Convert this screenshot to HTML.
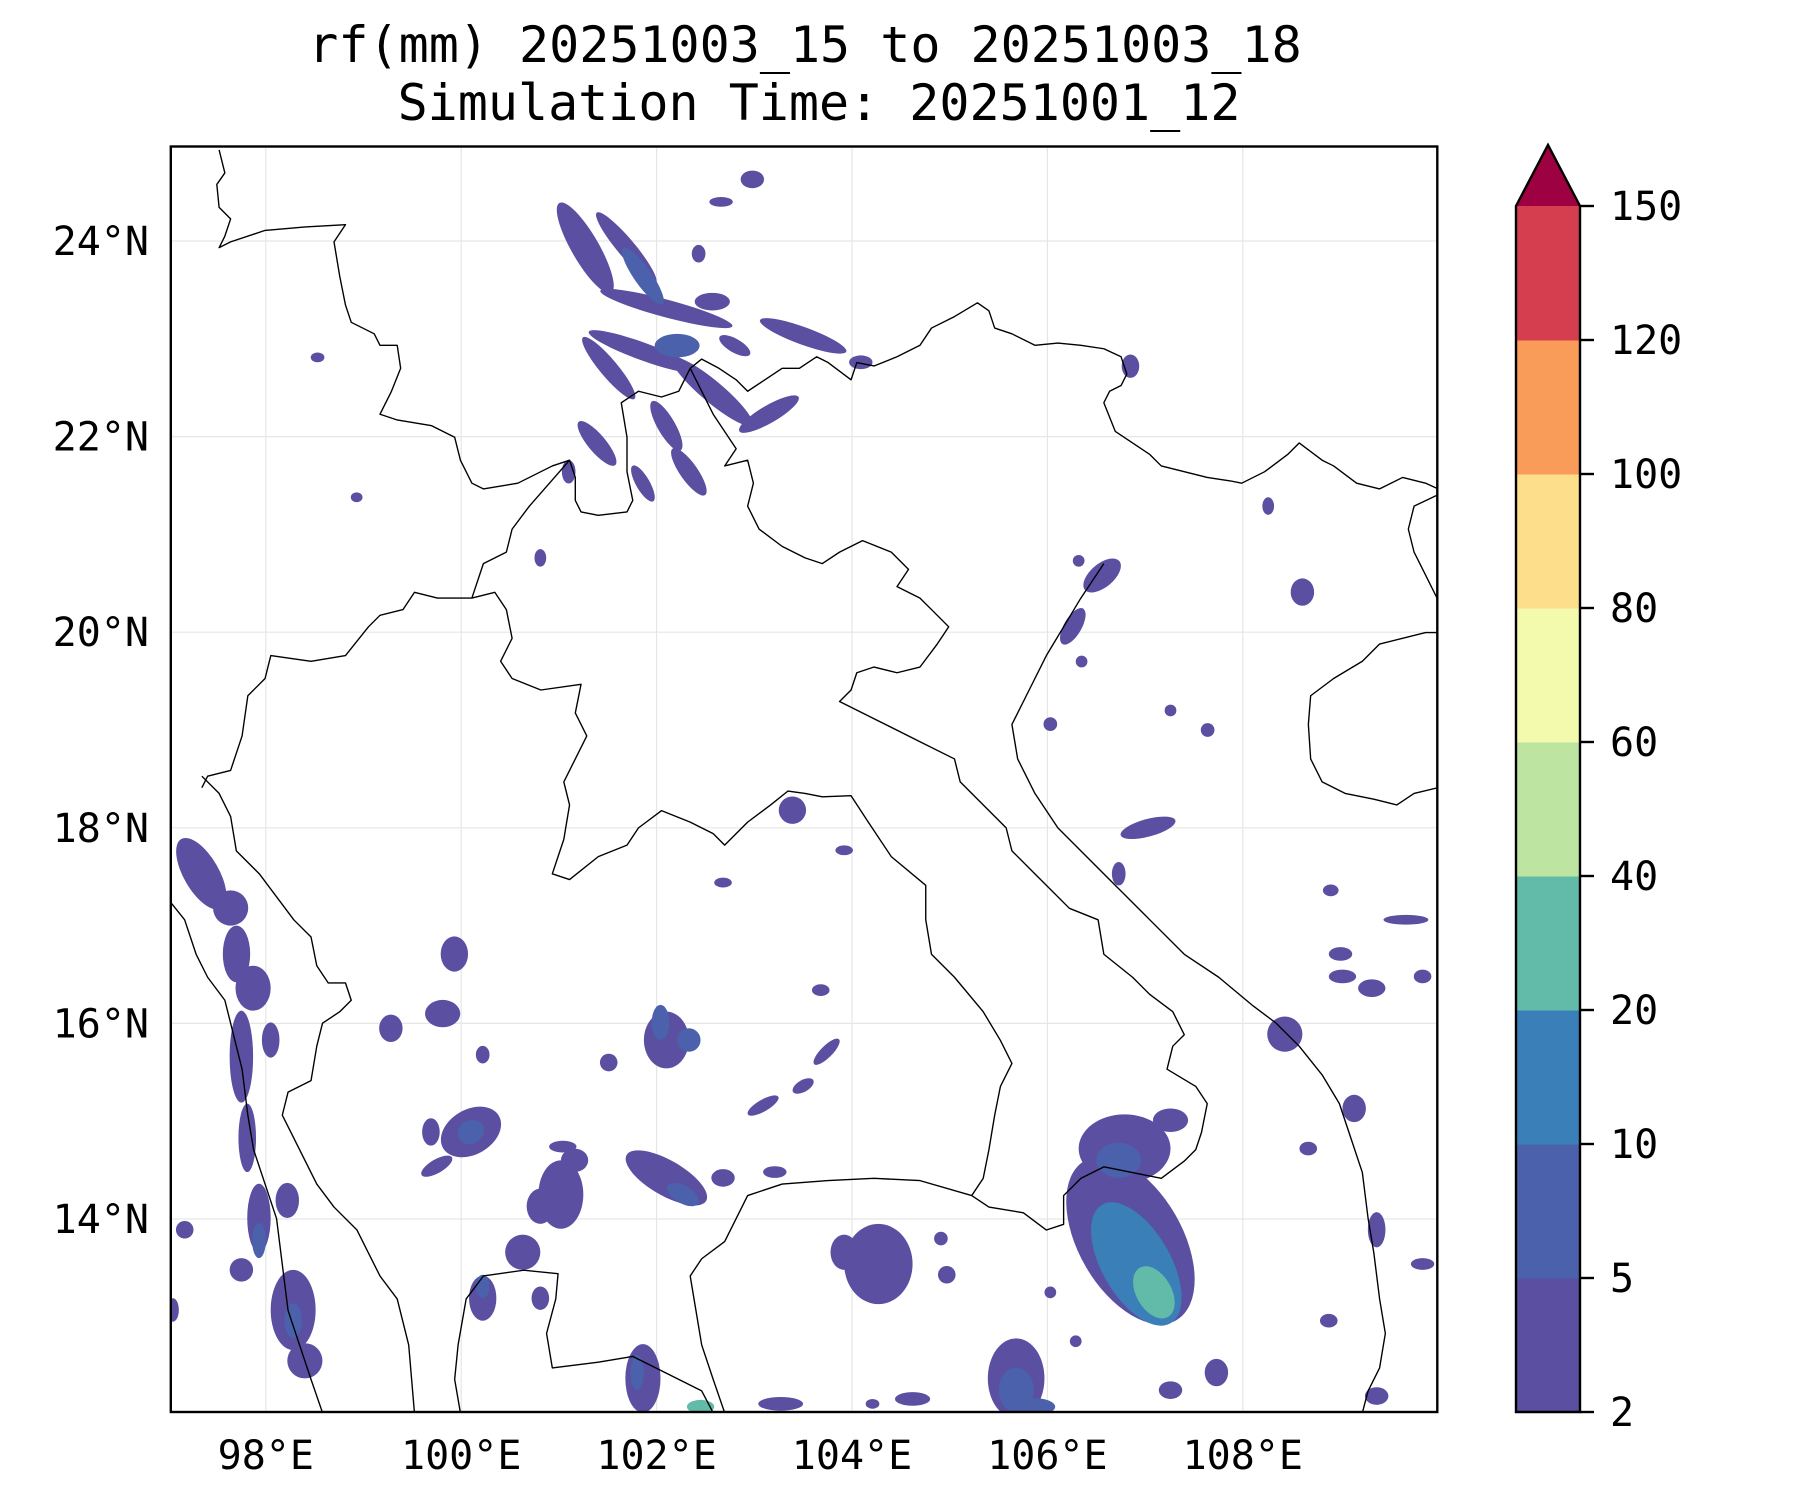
<!DOCTYPE html>
<html><head><meta charset="utf-8"><title>rf(mm) map</title>
<style>
html,body{margin:0;padding:0;background:#fff;}
svg{display:block;}
text{font-family:"DejaVu Sans Mono","Liberation Mono",monospace;fill:#000;}
</style></head>
<body>
<svg id="fig" width="1800" height="1500" viewBox="0 0 1800 1500" xmlns="http://www.w3.org/2000/svg">
<defs><clipPath id="axclip"><rect x="170.8" y="146.5" width="1266.5" height="1265.5"/></clipPath></defs>
<text x="805" y="62" font-size="50" text-anchor="middle">rf(mm) 20251003_15 to 20251003_18</text>
<text x="819" y="120" font-size="50" text-anchor="middle">Simulation Time: 20251001_12</text>
<g id="grid"></g>
<g id="rain" clip-path="url(#axclip)"></g>
<g clip-path="url(#axclip)">
<g transform="translate(0.8,0.6) scale(1.149)" fill="none" stroke="#000" stroke-width="1.2" stroke-linejoin="round">
<polyline points="190,130 195,150 188,160 190,180 200,190 195,205 190,215 200,210 230,200 265,197 300,195 290,210 295,240 300,265 305,280 325,290 330,300 345,300 348,320 340,340 330,360 345,365 375,370 395,380 400,400 410,420 420,425 450,420 480,405 495,400 500,415 500,435 505,445 520,448 545,445 550,435 545,410 545,380 540,350 555,340 575,345 590,340 600,320 610,312 625,320 640,330 650,340 665,330 680,320 695,320 710,310 720,315 740,330 745,315 760,318 780,310 800,300 810,285 830,275 850,263 860,270 865,285 880,290 900,300 920,298 940,300 960,303 975,310 980,325 975,335 965,340 960,350 970,375 985,385 1000,395 1010,405 1030,410 1050,415 1070,418 1080,420 1100,410 1120,395 1130,385 1150,400 1160,405 1180,420 1200,425 1220,415 1240,420 1251,425"/>
<polyline points="600,320 620,360 640,390 630,405 650,400 655,420 650,440 660,460 680,475 700,485 715,490 730,480 750,470 775,480 790,495 780,510 800,520 810,530 825,545 815,560 800,580 780,585 760,580 745,585 740,600 730,610 760,625 800,645 830,660 835,680 855,700 875,720 880,740 900,760 930,790 955,800 960,830 985,850 1000,865 1020,880 1030,900 1020,910 1015,930 1040,945 1050,960 1045,985 1040,1000 1030,1010 1010,1025 985,1020 960,1015 940,1025 925,1040 925,1065 910,1070 890,1055 860,1050 845,1040 855,1025 860,1000 865,970 870,945 880,925 870,905 855,880 830,850 810,830 805,800 805,770 775,745 755,715 740,692 715,693 700,690 685,688 670,700 650,715 630,735 620,725 600,715 575,705 555,720 545,735 520,745 495,765 480,760 490,730 495,700 490,680 500,660 510,640 500,620 505,595 470,600 445,590 435,575 445,555 440,530 430,515 410,520 405,520 380,520 360,515 350,530 330,535 320,545 300,570 270,575 235,570 230,590 215,605 210,640 200,670 180,675 175,685"/>
<polyline points="495,400 460,440 445,460 440,480 420,490 410,520"/>
<polyline points="960,490 940,520 925,545 910,570 895,600 880,630 885,660 900,690 920,720 945,745 970,770 1000,800 1030,830 1060,850 1090,875 1110,890 1130,910 1150,935 1165,960 1175,990 1185,1020 1190,1060 1195,1090 1200,1130 1205,1160 1200,1190 1190,1210 1185,1229"/>
<polyline points="845,1040 800,1027 760,1025 720,1027 680,1030 650,1040 640,1060 630,1080 610,1095 600,1110 605,1140 610,1170 620,1200 630,1229"/>
<polyline points="400,1229 395,1200 398,1170 405,1130 420,1110 455,1105 485,1108 483,1130 475,1160 480,1190 520,1185 550,1180 570,1190 590,1200 610,1210 620,1229"/>
<polyline points="175,675 190,690 200,710 205,740 225,760 240,780 255,800 270,815 275,840 285,855 300,855 305,870 295,880 280,890 275,910 270,940 250,950 245,970 255,990 265,1010 275,1030 290,1050 310,1070 320,1090 330,1110 345,1130 355,1170 360,1229"/>
<polyline points="148,785 160,800 170,830 180,850 195,870 200,890 210,930 215,970 220,1000 230,1030 240,1060 245,1100 250,1140 260,1170 270,1200 280,1229"/>
<polyline points="1251,550 1240,550 1220,555 1200,560 1185,575 1160,590 1140,605 1138,630 1140,660 1150,680 1170,690 1195,695 1215,700 1230,690 1251,685"/>
<polyline points="1251,430 1230,440 1225,460 1230,480 1240,500 1250,520"/>
</g></g>
<rect x="170.8" y="146.5" width="1266.5" height="1265.5" fill="none" stroke="#000" stroke-width="2.4"/>
<g id="ticks"></g>
<g id="cbar"></g>
</svg>
<script>
// Axis tick values
const lonTicks = [98, 100, 102, 104, 106, 108];
const latTicks = [14, 16, 18, 20, 22, 24];
// Colorbar levels and colours
const levels = [2, 5, 10, 20, 40, 60, 80, 100, 120, 150];
const levelColors = ["#5b4fa1", "#4b61ab", "#3a7fb8", "#62bba9", "#bde4a1", "#f3faad", "#fddf8b", "#f99c5a", "#d53e4f"];
const extendColor = "#9e0142";
// Rain cells: centre lon/lat (deg), radii (deg), orientation (deg), level index
const cellLon = [101.27,101.69,102.10,101.86,103.50,102.57,101.86,101.51,102.57,103.15,102.10,101.39,102.33,101.86,102.80,102.98,102.66,102.43,102.21,104.09,106.85,98.53,
97.34,97.64,97.70,97.87,97.75,97.81,97.93,97.93,98.28,98.28,98.40,97.75,98.05,98.22,
99.93,99.81,99.28,100.10,100.10,99.75,99.69,101.02,101.04,100.22,102.10,102.33,102.04,102.10,102.27,102.68,103.21,103.09,103.74,103.50,103.39,103.92,102.68,103.68,101.51,101.16,100.81,100.63,100.22,100.81,100.22,
104.27,103.92,104.97,104.91,
106.85,106.91,107.09,106.79,106.73,107.26,107.73,105.68,105.68,105.85,101.86,101.80,102.45,103.27,104.62,104.21,
107.03,106.73,106.56,106.26,108.90,109.67,109.02,109.32,109.00,108.61,108.26,108.43,109.14,109.84,109.84,109.37,109.37,107.26,107.64,106.35,106.03,106.32,108.67,108.88,107.26,106.29,106.03,101.10,100.81,98.93,97.17,97.05];
const cellLat = [23.93,23.93,23.31,23.64,23.03,23.38,22.87,22.70,22.46,22.23,22.11,21.93,21.64,21.52,22.93,24.63,24.40,23.87,22.93,22.76,22.72,22.81,
17.53,17.18,16.71,16.36,15.66,14.83,14.01,13.78,13.07,12.96,12.55,13.48,15.83,14.19,
16.71,16.10,15.95,14.89,14.89,14.54,14.89,14.25,14.74,15.68,15.83,15.83,16.01,14.42,14.25,14.42,14.48,15.16,15.71,15.36,18.18,17.77,17.44,16.34,15.60,14.60,14.13,13.66,13.19,13.19,13.31,
13.54,13.66,13.43,13.80,
13.78,13.54,13.25,14.72,14.60,15.01,12.43,12.37,12.25,12.08,12.37,12.43,12.08,12.11,12.16,12.11,
18.00,17.53,20.58,20.06,17.36,17.06,16.48,16.36,16.71,20.41,21.29,15.89,15.13,16.48,13.54,12.19,13.89,19.20,19.00,19.70,19.06,20.73,14.72,12.96,12.25,12.75,13.25,21.64,20.76,21.38,13.89,13.07];
const cellRx = [.14,.09,.70,.09,.47,.18,.59,.09,.53,.35,.09,.09,.09,.07,.18,.12,.12,.07,.23,.12,.09,.07,
.18,.18,.14,.18,.12,.09,.12,.07,.23,.09,.18,.12,.09,.12,
.14,.18,.12,.33,.14,.18,.09,.23,.14,.07,.23,.12,.09,.47,.18,.12,.12,.18,.18,.12,.14,.09,.09,.09,.09,.14,.14,.18,.14,.09,.07,
.35,.14,.09,.07,
.53,.35,.18,.47,.23,.18,.12,.29,.18,.23,.18,.07,.14,.23,.18,.07,
.29,.07,.23,.09,.08,.23,.14,.14,.12,.12,.06,.18,.12,.09,.12,.12,.09,.06,.07,.06,.07,.06,.09,.09,.12,.06,.06,.07,.06,.06,.09,.06];
const cellRy = [.53,.47,.09,.35,.09,.09,.09,.41,.11,.09,.29,.29,.29,.21,.07,.09,.05,.09,.12,.07,.12,.05,
.41,.18,.29,.23,.47,.35,.35,.18,.41,.18,.18,.12,.18,.18,
.18,.14,.14,.23,.12,.07,.14,.35,.06,.09,.29,.12,.18,.18,.09,.09,.06,.06,.06,.06,.14,.05,.05,.06,.09,.12,.18,.18,.23,.12,.12,
.41,.18,.09,.07,
.94,.70,.29,.35,.18,.12,.14,.41,.23,.09,.35,.18,.07,.07,.07,.05,
.09,.12,.12,.21,.06,.05,.07,.09,.07,.14,.09,.18,.14,.07,.06,.09,.18,.06,.07,.06,.07,.06,.07,.07,.09,.06,.06,.12,.09,.05,.09,.12];
const cellRot = [-30,-40,15,-35,20,0,20,-40,40,-30,-30,-40,-35,-30,30,0,0,0,0,0,0,0,
-30,0,0,0,0,0,0,0,0,0,0,0,0,0,
0,0,0,-30,-30,-30,0,0,0,0,0,0,0,30,30,0,0,-30,-45,-30,0,0,0,0,0,0,0,0,0,0,0,
0,0,0,0,
-30,-30,-30,0,0,0,0,0,0,0,0,0,0,0,0,0,
-15,0,-40,30,0,0,0,0,0,0,0,0,0,0,0,0,0,0,0,0,0,0,0,0,0,0,0,0,0,0,0,0];
const cellLevel = [0,0,0,1,0,0,0,0,0,0,0,0,0,0,0,0,0,0,1,0,0,0,
0,0,0,0,0,0,0,1,0,1,0,0,0,0,
0,0,0,0,1,0,0,0,0,0,0,1,1,0,1,0,0,0,0,0,0,0,0,0,0,0,0,0,0,0,1,
0,0,0,0,
0,2,3,0,1,0,0,0,1,1,0,1,3,0,0,0,
0,0,0,0,0,0,0,0,0,0,0,0,0,0,0,0,0,0,0,0,0,0,0,0,0,0,0,0,0,0,0,0];

const NS = "http://www.w3.org/2000/svg";
const X0 = 170.8, X1 = 1437.3, Y0 = 146.5, Y1 = 1412;
function xOf(lon){ return 265.8 + (lon - 98) * 97.7; }
function yOf(lat){ return 241.0 - (lat - 24) * 97.8; }
function mk(tag, attrs){ const e = document.createElementNS(NS, tag); for (const k in attrs) e.setAttribute(k, attrs[k]); return e; }

const grid = document.getElementById('grid');
const ticks = document.getElementById('ticks');
lonTicks.forEach(function(v){
  const x = xOf(v);
  const gl = mk('line', {x1:x, x2:x, y1:Y0, y2:Y1, stroke:'#e6e6e6', 'stroke-width':1.2});
  
  
  grid.appendChild(gl);
  const t = mk('text', {x:x, y:1469, 'font-size':40, 'text-anchor':'middle'});
  t.textContent = v + '°E';
  
  
  ticks.appendChild(t);
});
latTicks.forEach(function(v){
  const y = yOf(v);
  const gl = mk('line', {x1:X0, x2:X1, y1:y, y2:y, stroke:'#e6e6e6', 'stroke-width':1.2});
  
  
  grid.appendChild(gl);
  const t = mk('text', {x:149, y:y + 14, 'font-size':40, 'text-anchor':'end'});
  t.textContent = v + '°N';
  
  
  ticks.appendChild(t);
});

const rain = document.getElementById('rain');
const order = cellLon.map(function(_, i){ return i; }).sort(function(a, b){ return cellLevel[a] - cellLevel[b]; });
order.forEach(function(i){
  const cx = xOf(cellLon[i]), cy = yOf(cellLat[i]);
  const e = mk('ellipse', {cx:cx, cy:cy, rx:cellRx[i] * 97.7, ry:cellRy[i] * 97.8,
    fill:levelColors[cellLevel[i]], transform:'rotate(' + cellRot[i] + ' ' + cx + ' ' + cy + ')'});
  
  
  rain.appendChild(e);
});

const cbar = document.getElementById('cbar');
const CB_L = 1516, CB_R = 1580, CB_TOP = 206, CB_BOT = 1412, CB_TIP = 145;
const nSeg = levels.length - 1;
const segH = (CB_BOT - CB_TOP) / nSeg;
function cbY(i){ return CB_BOT - i * segH; }
for (let i = 0; i < nSeg; i++){
  const r = mk('rect', {x:CB_L, y:cbY(i + 1), width:CB_R - CB_L, height:segH + 0.5, fill:levelColors[i]});
  
  
  cbar.appendChild(r);
}
const tri = mk('polygon', {points: CB_L + ',' + CB_TOP + ' ' + (CB_L + CB_R) / 2 + ',' + CB_TIP + ' ' + CB_R + ',' + CB_TOP, fill:extendColor});


cbar.appendChild(tri);
const outline = mk('polygon', {points: CB_L + ',' + CB_BOT + ' ' + CB_L + ',' + CB_TOP + ' ' + (CB_L + CB_R) / 2 + ',' + CB_TIP + ' ' + CB_R + ',' + CB_TOP + ' ' + CB_R + ',' + CB_BOT,
  fill:'none', stroke:'#000', 'stroke-width':2.4, 'stroke-linejoin':'miter'});


cbar.appendChild(outline);
levels.forEach(function(v, i){
  const y = cbY(i);
  const tk = mk('line', {x1:CB_R, x2:CB_R + 14, y1:y, y2:y, stroke:'#000', 'stroke-width':2.4});
  
  
  cbar.appendChild(tk);
  const t = mk('text', {x:1610, y:y + 14, 'font-size':40});
  t.textContent = v;
  
  
  cbar.appendChild(t);
});
</script>
</body></html>
